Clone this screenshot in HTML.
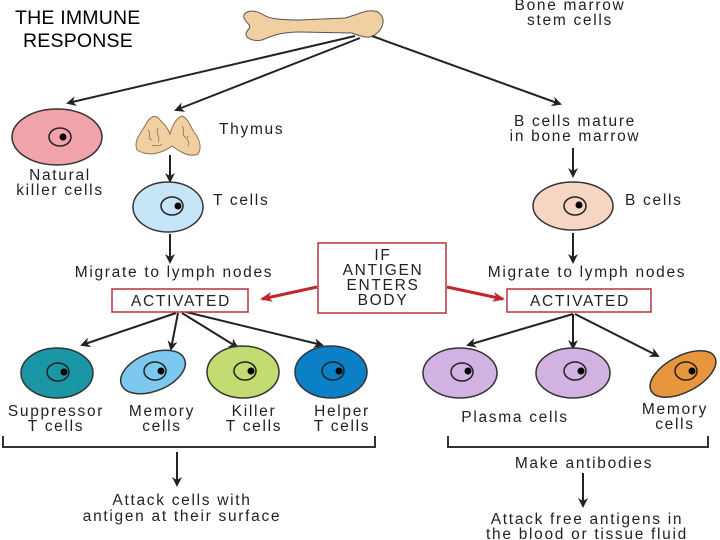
<!DOCTYPE html>
<html><head><meta charset="utf-8"><style>
html,body{margin:0;padding:0;background:#fff;}
svg{display:block;}
text{font-family:"Liberation Sans",sans-serif;fill:#222;}
.t{font-size:15.5px;letter-spacing:1.7px;}
</style></head><body>
<svg width="720" height="540" viewBox="0 0 720 540" xmlns="http://www.w3.org/2000/svg">
<defs>
<marker id="a" markerWidth="10" markerHeight="10" refX="8" refY="5" orient="auto" markerUnits="userSpaceOnUse"><path d="M0,0 L10,5 L0,10 L3,5 z" fill="#222"/></marker>
<marker id="r" markerWidth="12" markerHeight="10" refX="10" refY="5" orient="auto" markerUnits="userSpaceOnUse"><path d="M0,0 L12,5 L0,10 L3,5 z" fill="#c0262c"/></marker>
</defs>
<text x="15" y="24" font-size="19.5" letter-spacing="0.2" style="fill:#000">THE IMMUNE</text>
<text x="23" y="47" font-size="19.5" letter-spacing="0.2" style="fill:#000">RESPONSE</text>
<!-- bone -->
<path d="M245,20 C240,12 252,8 262,14 C268,18 275,20 300,20 L345,18 C360,14 368,8 378,12 C386,18 384,28 376,34 C370,40 360,36 352,33 L300,32 C280,32 272,36 262,40 C250,42 242,36 248,30 C252,26 248,24 245,20 z" fill="#f0cfa0" stroke="#555" stroke-width="1"/>
<g class="t" text-anchor="middle">
<text x="570" y="10">Bone marrow</text>
<text x="570" y="25">stem cells</text>
</g>
<g stroke="#222" stroke-width="2" fill="none" marker-end="url(#a)">
<line x1="355" y1="36" x2="68" y2="103"/>
<line x1="360" y1="38" x2="176" y2="110"/>
<line x1="372" y1="36" x2="560" y2="104"/>
<line x1="170" y1="155" x2="170" y2="181"/>
<line x1="170" y1="234" x2="170" y2="262"/>
<line x1="573" y1="148" x2="573" y2="176"/>
<line x1="573" y1="233" x2="573" y2="262"/>
<line x1="176" y1="313" x2="82" y2="345"/>
<line x1="178" y1="313" x2="171" y2="349"/>
<line x1="182" y1="313" x2="237" y2="347"/>
<line x1="186" y1="312" x2="322" y2="345"/>
<line x1="573" y1="314" x2="468" y2="345"/>
<line x1="573" y1="314" x2="573" y2="348"/>
<line x1="575" y1="314" x2="658" y2="356"/>
<line x1="177" y1="452" x2="177" y2="485"/>
<line x1="583" y1="473" x2="583" y2="506"/>
</g>
<!-- NK -->
<ellipse cx="57" cy="137" rx="45" ry="28" fill="#f0a3aa" stroke="#333" stroke-width="1.5"/>
<ellipse cx="60" cy="137" rx="11" ry="9" fill="none" stroke="#222" stroke-width="1.5"/><circle cx="63" cy="137" r="3.5" fill="#000"/>
<g class="t" text-anchor="middle">
<text x="60" y="180">Natural</text>
<text x="60" y="195">killer cells</text>
</g>
<!-- thymus -->
<path d="M137,150 C133,140 142,132 146,124 C150,116 156,114 160,120 C164,124 168,128 170,134 C172,126 176,118 182,116 C188,118 190,126 194,132 C200,140 202,148 198,154 C190,158 180,152 172,146 C164,152 150,158 137,150 z" fill="#f0cfa0" stroke="#8a7050" stroke-width="1"/>
<path d="M148,130 c4,4 -2,8 4,10 M158,128 c-3,6 3,8 0,14 M182,126 c4,5 -2,8 4,12 M188,136 c-3,4 3,6 0,10 M152,146 c4,-2 6,2 10,-2" fill="none" stroke="#8a7050" stroke-width="0.8"/>
<text class="t" x="219" y="134">Thymus</text>
<!-- T cell -->
<ellipse cx="168" cy="207" rx="35" ry="25" fill="#c6e6f8" stroke="#333" stroke-width="1.5"/>
<ellipse cx="172" cy="206" rx="11" ry="9" fill="none" stroke="#222" stroke-width="1.5"/><circle cx="178" cy="206" r="3.5" fill="#000"/>
<text class="t" x="213" y="205">T cells</text>
<text class="t" x="174" y="277" text-anchor="middle">Migrate to lymph nodes</text>
<rect x="112" y="289" width="136" height="23" fill="#fff" stroke="#b8323a" stroke-width="1.5"/>
<text class="t" x="181" y="306" text-anchor="middle">ACTIVATED</text>
<!-- IF box -->
<rect x="318" y="243" width="128" height="70" fill="#fff" stroke="#b8323a" stroke-width="1.5"/>
<g class="t" text-anchor="middle">
<text x="383" y="260">IF</text>
<text x="383" y="275">ANTIGEN</text>
<text x="383" y="290">ENTERS</text>
<text x="383" y="305">BODY</text>
</g>
<line x1="317" y1="287" x2="262" y2="299" stroke="#c0262c" stroke-width="3" marker-end="url(#r)"/>
<line x1="447" y1="287" x2="503" y2="299" stroke="#c0262c" stroke-width="3" marker-end="url(#r)"/>
<!-- B side -->
<g class="t" text-anchor="middle">
<text x="575" y="126">B cells mature</text>
<text x="575" y="141">in bone marrow</text>
</g>
<ellipse cx="573" cy="206" rx="40" ry="24" fill="#f6d6c2" stroke="#333" stroke-width="1.5"/>
<ellipse cx="575" cy="206" rx="11" ry="9" fill="none" stroke="#222" stroke-width="1.5"/><circle cx="579" cy="205" r="3.5" fill="#000"/>
<text class="t" x="625" y="205">B cells</text>
<text class="t" x="587" y="277" text-anchor="middle">Migrate to lymph nodes</text>
<rect x="507" y="289" width="144" height="23" fill="#fff" stroke="#b8323a" stroke-width="1.5"/>
<text class="t" x="580" y="306" text-anchor="middle">ACTIVATED</text>
<!-- T subtypes -->
<ellipse cx="57" cy="373" rx="36" ry="25" fill="#1a96a4" stroke="#333" stroke-width="1.5"/>
<ellipse cx="58" cy="372" rx="11" ry="9" fill="none" stroke="#222" stroke-width="1.5"/><circle cx="64" cy="372" r="3.5" fill="#000"/>
<ellipse cx="153" cy="372" rx="34" ry="19" transform="rotate(-22 153 372)" fill="#7cc8ee" stroke="#333" stroke-width="1.5"/>
<ellipse cx="155" cy="371" rx="11" ry="9" fill="none" stroke="#222" stroke-width="1.5"/><circle cx="161" cy="371" r="3.5" fill="#000"/>
<ellipse cx="243" cy="372" rx="36" ry="26" fill="#c2dc72" stroke="#333" stroke-width="1.5"/>
<ellipse cx="245" cy="371" rx="11" ry="9" fill="none" stroke="#222" stroke-width="1.5"/><circle cx="251" cy="371" r="3.5" fill="#000"/>
<ellipse cx="331" cy="372" rx="36" ry="26" fill="#0b80c6" stroke="#333" stroke-width="1.5"/>
<ellipse cx="333" cy="371" rx="11" ry="9" fill="none" stroke="#222" stroke-width="1.5"/><circle cx="339" cy="371" r="3.5" fill="#000"/>
<g class="t" text-anchor="middle">
<text x="56" y="416">Suppressor</text><text x="56" y="431">T cells</text>
<text x="162" y="416">Memory</text><text x="162" y="431">cells</text>
<text x="254" y="416">Killer</text><text x="254" y="431">T cells</text>
<text x="342" y="416">Helper</text><text x="342" y="431">T cells</text>
</g>
<path d="M3,436 V447 H375 V436" fill="none" stroke="#333" stroke-width="2"/>
<g class="t" text-anchor="middle">
<text x="182" y="505">Attack cells with</text>
<text x="182" y="521">antigen at their surface</text>
</g>
<!-- B subtypes -->
<ellipse cx="460" cy="373" rx="37" ry="25" fill="#d2b2e2" stroke="#333" stroke-width="1.5"/>
<ellipse cx="462" cy="372" rx="11" ry="9" fill="none" stroke="#222" stroke-width="1.5"/><circle cx="468" cy="371" r="3.5" fill="#000"/>
<ellipse cx="573" cy="373" rx="37" ry="25" fill="#d2b2e2" stroke="#333" stroke-width="1.5"/>
<ellipse cx="575" cy="371" rx="11" ry="9" fill="none" stroke="#222" stroke-width="1.5"/><circle cx="581" cy="371" r="3.5" fill="#000"/>
<ellipse cx="683" cy="374" rx="36" ry="18" transform="rotate(-28 683 374)" fill="#e8963e" stroke="#333" stroke-width="1.5"/>
<ellipse cx="686" cy="371" rx="11" ry="9" fill="none" stroke="#222" stroke-width="1.5"/><circle cx="692" cy="371" r="3.5" fill="#000"/>
<g class="t" text-anchor="middle">
<text x="515" y="422">Plasma cells</text>
<text x="675" y="414">Memory</text>
<text x="675" y="429">cells</text>
</g>
<path d="M448,436 V447 H708 V436" fill="none" stroke="#333" stroke-width="2"/>
<g class="t" text-anchor="middle">
<text x="584" y="468">Make antibodies</text>
<text x="587" y="524">Attack free antigens in</text>
<text x="587" y="539">the blood or tissue fluid</text>
</g>
</svg>
</body></html>
